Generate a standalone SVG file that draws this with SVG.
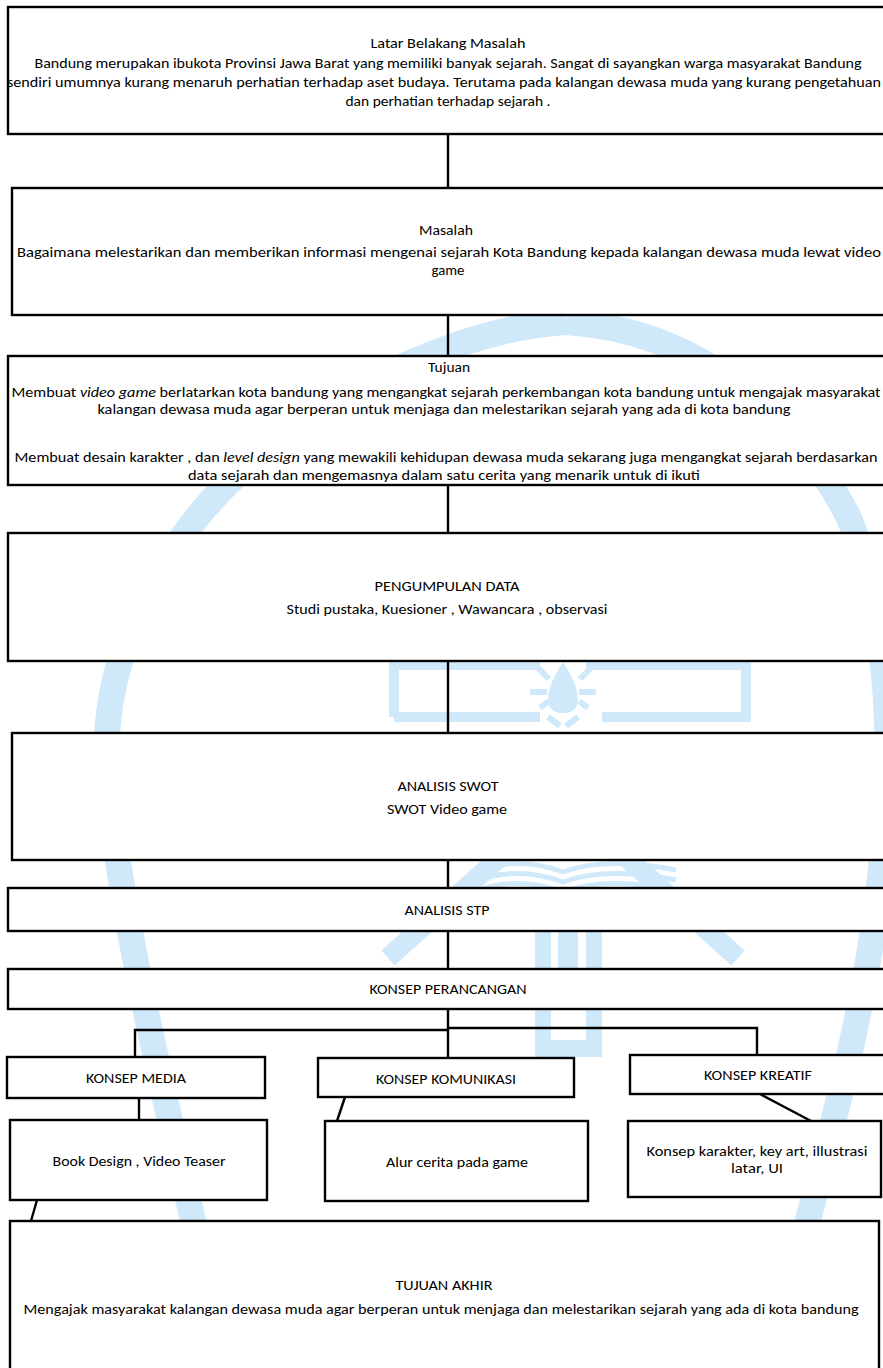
<svg xmlns="http://www.w3.org/2000/svg" width="883" height="1368" viewBox="0 0 883 1368">
<style>
.box{fill:#fff;stroke:#000;stroke-width:2.4}
.t{font-family:Carlito,"Liberation Sans Narrow","Liberation Sans",sans-serif;font-size:15px;fill:#000;text-anchor:middle}
.c{stroke:#000;stroke-width:2.4;fill:none}
.wm{fill:none;stroke:#cfe9fb;stroke-linecap:butt}
.wmf{fill:#cfe9fb;stroke:none}
</style>
<rect x="0" y="0" width="883" height="1368" fill="#fff"/>
<g id="watermark">
<path class="wm" stroke-width="26" d="M566,322 C430,330 265,430 195,520 C125,610 100,700 108,780 C118,900 160,1080 200,1250"/>
<path class="wm" stroke-width="26" d="M566,322 C700,330 800,420 850,520 C880,600 892,700 886,800 C880,950 840,1100 800,1250"/>
<path class="wm" stroke-width="20" d="M388,958 L563,800 L738,958"/>
<path class="wm" stroke-width="5" d="M478,870 Q520,856 563,872 Q606,856 676,870 M478,880 Q520,866 563,882 Q606,866 676,880 M478,890 Q520,876 563,892 Q606,876 676,890"/>
<path class="wm" stroke-width="10" d="M394,717 V665 H540 M586,665 H746 V717 H602 M540,717 H394"/>
<path class="wmf" d="M563,662 C575,680 580,695 577,705 C574,716 552,716 549,705 C546,695 551,680 563,662 Z"/>
<path class="wm" stroke-width="6" d="M538,668 L549,679 M591,668 L580,679 M530,692 H547 M579,692 H596 M540,708 L549,701 M588,708 L579,701 M548,717 L560,726 M578,717 L566,726"/>
<rect class="wmf" x="535" y="931" width="16" height="126"/>
<rect class="wmf" x="586" y="931" width="16" height="126"/>
<rect class="wmf" x="558" y="931" width="20" height="70"/>
<rect class="wmf" x="535" y="1040" width="67" height="17"/>
</g>
<g id="connectors">
<path class="c" d="M448,134 V188"/>
<path class="c" d="M448,315 V356"/>
<path class="c" d="M448,485 V533"/>
<path class="c" d="M448,661 V733"/>
<path class="c" d="M448,860 V888"/>
<path class="c" d="M448,931 V969"/>
<path class="c" d="M448,1009 V1058"/>
<path class="c" d="M448,1030 H135 V1057"/>
<path class="c" d="M448,1028 H757 V1055"/>
<path class="c" d="M139,1098 V1120"/>
<path class="c" d="M345,1097 L337,1121"/>
<path class="c" d="M760,1094 L811,1121"/>
<path class="c" d="M37,1200 L31,1221"/>
</g>
<g id="latar-belakang">
<rect class="box" x="8" y="7" width="890" height="127"/>
<text class="t" x="448" y="48" textLength="155" lengthAdjust="spacingAndGlyphs">Latar Belakang Masalah</text>
<text class="t" x="448" y="68" textLength="827" lengthAdjust="spacingAndGlyphs">Bandung merupakan ibukota Provinsi Jawa Barat yang memiliki banyak sejarah. Sangat di sayangkan warga masyarakat Bandung</text>
<text class="t" x="444" y="87" textLength="874" lengthAdjust="spacingAndGlyphs">sendiri umumnya kurang menaruh perhatian terhadap aset budaya. Terutama pada kalangan dewasa muda yang kurang pengetahuan</text>
<text class="t" x="448" y="106" textLength="205" lengthAdjust="spacingAndGlyphs">dan perhatian terhadap sejarah .</text>
</g>
<g id="masalah">
<rect class="box" x="12" y="188" width="886" height="127"/>
<text class="t" x="446" y="235" textLength="54" lengthAdjust="spacingAndGlyphs">Masalah</text>
<text class="t" x="449" y="257" textLength="864" lengthAdjust="spacingAndGlyphs">Bagaimana melestarikan dan memberikan informasi mengenai sejarah Kota Bandung kepada kalangan dewasa muda lewat video</text>
<text class="t" x="448" y="275" textLength="33" lengthAdjust="spacingAndGlyphs">game</text>
</g>
<g id="tujuan">
<rect class="box" x="8" y="356" width="890" height="129"/>
<text class="t" x="449" y="372" textLength="42" lengthAdjust="spacingAndGlyphs">Tujuan</text>
<text class="t" x="446" y="397" textLength="869" lengthAdjust="spacingAndGlyphs">Membuat <tspan font-style="italic">video game</tspan> berlatarkan kota bandung yang mengangkat sejarah perkembangan kota bandung untuk mengajak masyarakat</text>
<text class="t" x="444" y="414" textLength="693" lengthAdjust="spacingAndGlyphs">kalangan dewasa muda agar berperan untuk menjaga dan melestarikan sejarah yang ada di kota bandung</text>
<text class="t" x="446" y="462" textLength="863" lengthAdjust="spacingAndGlyphs">Membuat desain karakter , dan <tspan font-style="italic">level design</tspan> yang mewakili kehidupan dewasa muda sekarang juga mengangkat sejarah berdasarkan</text>
<text class="t" x="444" y="480" textLength="512" lengthAdjust="spacingAndGlyphs">data sejarah dan mengemasnya dalam satu cerita yang menarik untuk di ikuti</text>
</g>
<g id="pengumpulan-data">
<rect class="box" x="8" y="533" width="890" height="128"/>
<text class="t" x="447" y="591" textLength="145" lengthAdjust="spacingAndGlyphs">PENGUMPULAN DATA</text>
<text class="t" x="447" y="614" textLength="321" lengthAdjust="spacingAndGlyphs">Studi pustaka, Kuesioner , Wawancara , observasi</text>
</g>
<g id="analisis-swot">
<rect class="box" x="12" y="733" width="886" height="127"/>
<text class="t" x="448" y="791" textLength="101" lengthAdjust="spacingAndGlyphs">ANALISIS SWOT</text>
<text class="t" x="447" y="814" textLength="120" lengthAdjust="spacingAndGlyphs">SWOT Video game</text>
</g>
<g id="analisis-stp">
<rect class="box" x="8" y="888" width="890" height="43"/>
<text class="t" x="447" y="915" textLength="85" lengthAdjust="spacingAndGlyphs">ANALISIS STP</text>
</g>
<g id="konsep-perancangan">
<rect class="box" x="8" y="969" width="890" height="40"/>
<text class="t" x="448" y="994" textLength="157" lengthAdjust="spacingAndGlyphs">KONSEP PERANCANGAN</text>
</g>
<g id="konsep-media">
<rect class="box" x="7" y="1057" width="258" height="41"/>
<text class="t" x="136" y="1083" textLength="100" lengthAdjust="spacingAndGlyphs">KONSEP MEDIA</text>
</g>
<g id="konsep-komunikasi">
<rect class="box" x="318" y="1058" width="256" height="39"/>
<text class="t" x="446" y="1084" textLength="140" lengthAdjust="spacingAndGlyphs">KONSEP KOMUNIKASI</text>
</g>
<g id="konsep-kreatif">
<rect class="box" x="630" y="1055" width="268" height="39"/>
<text class="t" x="758" y="1080" textLength="108" lengthAdjust="spacingAndGlyphs">KONSEP KREATIF</text>
</g>
<g id="book-design">
<rect class="box" x="10" y="1120" width="257" height="80"/>
<text class="t" x="139" y="1166" textLength="173" lengthAdjust="spacingAndGlyphs">Book Design , Video Teaser</text>
</g>
<g id="alur-cerita">
<rect class="box" x="325" y="1121" width="263" height="80"/>
<text class="t" x="457" y="1167" textLength="142" lengthAdjust="spacingAndGlyphs">Alur cerita pada game</text>
</g>
<g id="konsep-karakter">
<rect class="box" x="628" y="1121" width="253" height="76"/>
<text class="t" x="757" y="1156" textLength="221" lengthAdjust="spacingAndGlyphs">Konsep karakter, key art, illustrasi</text>
<text class="t" x="757" y="1173" textLength="52" lengthAdjust="spacingAndGlyphs">latar, UI</text>
</g>
<g id="tujuan-akhir">
<rect class="box" x="10" y="1221" width="869" height="170"/>
<text class="t" x="444" y="1290" textLength="97" lengthAdjust="spacingAndGlyphs">TUJUAN AKHIR</text>
<text class="t" x="441" y="1314" textLength="835" lengthAdjust="spacingAndGlyphs">Mengajak masyarakat kalangan dewasa muda agar berperan untuk menjaga dan melestarikan sejarah yang ada di kota bandung</text>
</g>
</svg>
